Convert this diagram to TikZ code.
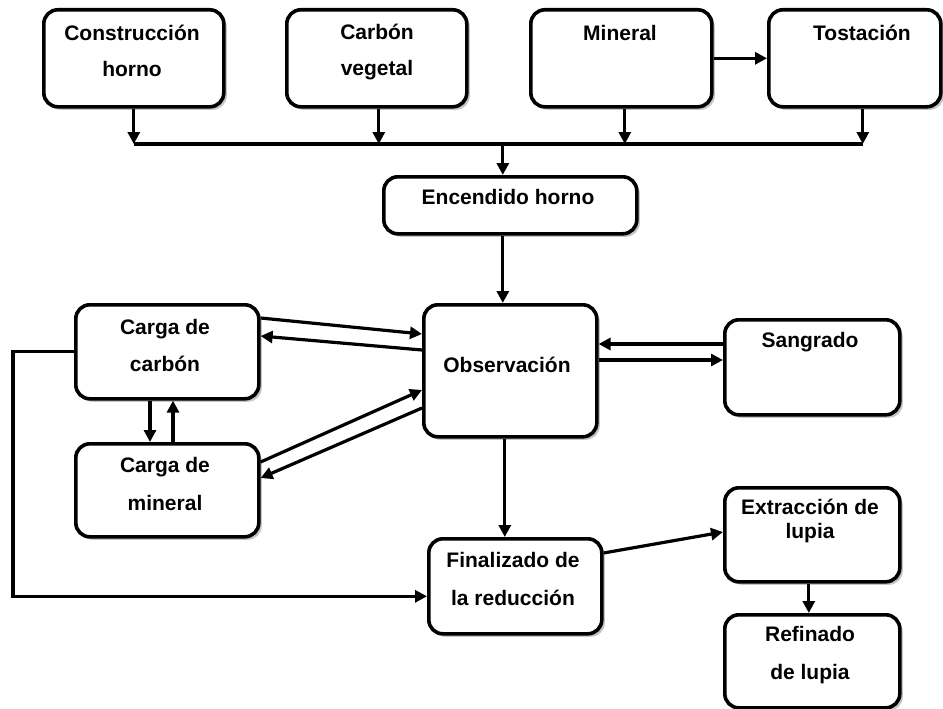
\documentclass[tikz,border=0pt]{standalone}
\usepackage{fontspec}
\setmainfont{Liberation Sans}
\usetikzlibrary{arrows.meta,shadows,calc}
\begin{document}
\begin{tikzpicture}[x=1pt,y=-1pt,
  box/.style={draw, line width=3.6pt, rounded corners=14pt, fill=white, anchor=north west, inner sep=0pt,
    drop shadow={shadow xshift=3pt, shadow yshift=-3pt, fill=black!45}},
  txt/.style={font=\fontsize{21}{24}\selectfont\bfseries, align=center, inner sep=0pt},
  arr/.style={line width=3.2pt, -{Triangle[length=12pt,width=12pt]}},
  ln/.style={line width=3.2pt}]
\useasboundingbox (0,0) rectangle (943,709);
% boxes
\node[box, minimum width=180pt, minimum height=97pt] (cons) at (42,8) {};
\node[box, minimum width=180pt, minimum height=97pt] (carbv) at (285,8) {};
\node[box, minimum width=181pt, minimum height=97pt] (mine) at (529,8) {};
\node[box, minimum width=172pt, minimum height=97pt] (tost) at (767,8) {};
\node[box, minimum width=253pt, minimum height=57pt] (enc) at (382,175) {};
\node[box, minimum width=173pt, minimum height=132pt] (obs) at (422,303) {};
\node[box, minimum width=175pt, minimum height=95pt] (sang) at (723,318) {};
\node[box, minimum width=183pt, minimum height=94pt] (cc) at (74,303) {};
\node[box, minimum width=183pt, minimum height=93pt] (cm) at (74,442) {};
\node[box, minimum width=173pt, minimum height=95pt] (fin) at (427,537) {};
\node[box, minimum width=175pt, minimum height=94pt] (ext) at (723,486) {};
\node[box, minimum width=175pt, minimum height=93pt] (ref) at (723,613) {};
% texts
\node[txt] (tcons) at (132,51) {Construcción\\[12pt]horno};
\node[txt] (tcarbv) at (377,52) {Carbón\\[12pt]vegetal};
\node[txt] (tmine) at (620,33) {Mineral};
\node[txt] (ttost) at (862,33) {Tostación};
\node[txt] (tenc) at (508,197) {Encendido horno};
\node[txt] (tobs) at (507,365) {Observación};
\node[txt] (tsang) at (810,342) {Sangrado};
\node[txt] (tcc) at (165,345) {Carga de\\[13pt]carbón};
\node[txt] (tcm) at (165,484) {Carga de\\[14pt]mineral};
\node[txt] (tfin) at (513,579) {Finalizado de\\[14pt]la reducción};
\node[txt] (text) at (810,521) {Extracción de\\lupia};
\node[txt] (tref) at (810,655) {Refinado\\[14pt]de lupia};
% bus
\coordinate (bus) at (0,144);
\coordinate (fbx) at (13,0);
\draw[arr] (cons.south) -- (cons.south |- bus);
\draw[arr] ([xshift=2pt]carbv.south) -- ([xshift=2pt]carbv.south |- bus);
\draw[arr] ([xshift=3.5pt]mine.south) -- ([xshift=3.5pt]mine.south |- bus);
\draw[arr] ([xshift=8pt]tost.south) -- ([xshift=8pt]tost.south |- bus);
\draw[ln] (cons.south |- bus) -- ([xshift=8pt]tost.south |- bus);
\draw[arr] ([xshift=-7.5pt]enc.north |- bus) -- ([xshift=-7.5pt]enc.north);
\draw[arr] (mine) -- (tost);
\draw[arr] ([xshift=-7.5pt]enc.south) -- ([xshift=-7.5pt]enc.south |- obs.north);
% carga <-> observacion
\draw[arr] ($(cc.north east)+(0,15)$) -- ($(obs.north west)+(0,31)$);
\draw[arr] ($(obs.north west)+(0,47)$) -- ($(cc.north east)+(0,33)$);
\draw[arr] ($(cm.north east)+(0,20)$) -- ($(obs.north west)+(0,87)$);
\draw[arr] ($(obs.north west)+(0,105)$) -- ($(cm.north east)+(0,36)$);
\draw[arr] ($(cc.south west)+(76,0)$) -- ($(cm.north west)+(76,0)$);
\draw[arr] ($(cm.north west)+(99,0)$) -- ($(cc.south west)+(99,0)$);
% feedback
\draw[arr] (cc.west) -- (fbx |- cc.west) -- (fbx |- {$(fin.west)+(0,10)$}) -- ($(fin.west)+(0,10)$);
% sangrado
\coordinate (s1) at ($(sang.north west)+(0,26)$);
\coordinate (s2) at ($(obs.north east)+(0,57)$);
\draw[arr] (s1) -- (obs.east |- s1);
\draw[arr] (s2) -- (sang.west |- s2);
% lower chain
\draw[arr] ([xshift=-5.5pt]obs.south) -- ([xshift=-5.5pt]obs.south |- fin.north);
\draw[arr] ($(fin.north east)+(0,16)$) -- ($(ext.north west)+(0,46)$);
\draw[arr] ([xshift=-3.5pt]ext.south) -- ([xshift=-3.5pt]ext.south |- ref.north);
\end{tikzpicture}
\end{document}
